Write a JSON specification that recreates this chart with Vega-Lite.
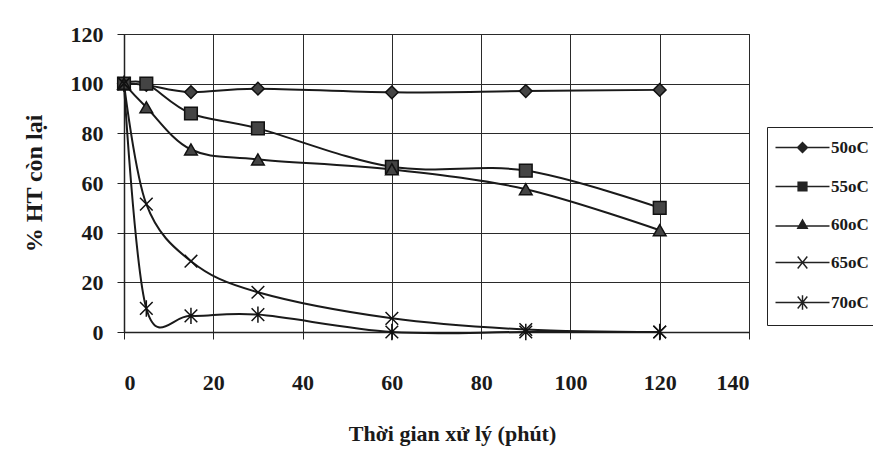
{
  "$schema": "https://vega.github.io/schema/vega-lite/v6.json",
  "width": 625,
  "height": 298,
  "autosize": {"type": "none"},
  "padding": {"left": 124, "top": 34, "right": 124, "bottom": 132},
  "background": "white",
  "config": {
    "font": "Liberation Serif",
    "view": {"stroke": "#222", "strokeWidth": 1},
    "axis": {
      "grid": true,
      "gridColor": "#2a2a2a",
      "gridWidth": 1,
      "gridOpacity": 1,
      "domainColor": "#222",
      "domainWidth": 1.5,
      "tickColor": "#222",
      "tickSize": 7,
      "labelFont": "Liberation Serif",
      "labelFontWeight": "bold",
      "labelFontSize": 22,
      "labelColor": "#1a1a1a",
      "titleFont": "Liberation Serif",
      "titleFontWeight": "bold",
      "titleColor": "#1a1a1a"
    }
  },
  "data": {
    "values": [
      {"t": 0, "pct": 100, "series": "50oC"},
      {"t": 5, "pct": 99.5, "series": "50oC"},
      {"t": 15, "pct": 96.6, "series": "50oC"},
      {"t": 30, "pct": 98, "series": "50oC"},
      {"t": 60, "pct": 96.5, "series": "50oC"},
      {"t": 90, "pct": 97, "series": "50oC"},
      {"t": 120, "pct": 97.5, "series": "50oC"},
      {"t": 0, "pct": 100, "series": "55oC"},
      {"t": 5, "pct": 100, "series": "55oC"},
      {"t": 15, "pct": 88, "series": "55oC"},
      {"t": 30, "pct": 82, "series": "55oC"},
      {"t": 60, "pct": 66.5, "series": "55oC"},
      {"t": 90, "pct": 65, "series": "55oC"},
      {"t": 120, "pct": 50, "series": "55oC"},
      {"t": 0, "pct": 100, "series": "60oC"},
      {"t": 5, "pct": 90.5, "series": "60oC"},
      {"t": 15, "pct": 73.5, "series": "60oC"},
      {"t": 30, "pct": 69.5, "series": "60oC"},
      {"t": 60, "pct": 65.5, "series": "60oC"},
      {"t": 90, "pct": 57.5, "series": "60oC"},
      {"t": 120, "pct": 41, "series": "60oC"},
      {"t": 0, "pct": 100, "series": "65oC"},
      {"t": 5, "pct": 51.5, "series": "65oC"},
      {"t": 15, "pct": 28.5, "series": "65oC"},
      {"t": 30, "pct": 16, "series": "65oC"},
      {"t": 60, "pct": 5.5, "series": "65oC"},
      {"t": 90, "pct": 1, "series": "65oC"},
      {"t": 120, "pct": 0, "series": "65oC"},
      {"t": 0, "pct": 100, "series": "70oC"},
      {"t": 5, "pct": 9.5, "series": "70oC"},
      {"t": 15, "pct": 6.5, "series": "70oC"},
      {"t": 30, "pct": 7, "series": "70oC"},
      {"t": 60, "pct": 0, "series": "70oC"},
      {"t": 90, "pct": 0, "series": "70oC"},
      {"t": 120, "pct": 0, "series": "70oC"}
    ]
  },
  "encoding": {
    "x": {
      "field": "t",
      "type": "quantitative",
      "scale": {"domain": [0, 140], "nice": false},
      "axis": {
        "values": [0, 20, 40, 60, 80, 100, 120, 140],
        "title": "Thời gian xử lý (phút)",
        "titleFontSize": 22,
        "titlePadding": 30,
        "titleX": 328,
        "labelPadding": 33
      }
    },
    "y": {
      "field": "pct",
      "type": "quantitative",
      "scale": {"domain": [0, 120], "nice": false},
      "axis": {
        "values": [0, 20, 40, 60, 80, 100, 120],
        "title": "% HT còn lại",
        "titleFontSize": 24,
        "titlePadding": 24,
        "labelPadding": 14
      }
    }
  },
  "layer": [
    {
      "mark": {"type": "line", "interpolate": "cardinal", "color": "#1a1a1a", "strokeWidth": 2, "clip": false},
      "encoding": {"detail": {"field": "series"}}
    },
    {
      "mark": {"type": "point", "filled": true, "fill": "#444", "stroke": "#111", "strokeWidth": 1.5, "size": 160, "opacity": 1},
      "encoding": {
        "shape": {
          "field": "series",
          "type": "nominal",
          "scale": {
            "domain": ["50oC", "55oC", "60oC", "65oC", "70oC"],
            "range": ["diamond", "square", "triangle-up", "M-1,-1L1,1M-1,1L1,-1", "M-1,-1L1,1M-1,1L1,-1M0,-1.3L0,1.3"]
          },
          "legend": null
        }
      }
    },
    {
      "mark": {"type": "point", "filled": true, "fill": "#222", "size": 0},
      "encoding": {
        "shape": {
          "field": "series",
          "type": "nominal",
          "scale": {
            "domain": ["50oC", "55oC", "60oC", "65oC", "70oC"],
            "range": [
              "M-4.5,-0.12L4.5,-0.12L4.5,0.12L-4.5,0.12ZM0,-1L1,0L0,1L-1,0Z",
              "M-4.5,-0.12L4.5,-0.12L4.5,0.12L-4.5,0.12ZM-0.85,-0.85L0.85,-0.85L0.85,0.85L-0.85,0.85Z",
              "M-4.5,0.13L4.5,0.13L4.5,0.37L-4.5,0.37ZM0,-1L1,0.75L-1,0.75Z",
              "M-4.5,-0.12L4.5,-0.12L4.5,0.12L-4.5,0.12ZM-0.706,-1.075L0.894,0.925L0.706,1.075L-0.894,-0.925ZM-0.706,1.075L-0.894,0.925L0.706,-1.075L0.894,-0.925Z",
              "M-4.5,-0.12L4.5,-0.12L4.5,0.12L-4.5,0.12ZM-0.706,-1.075L0.894,0.925L0.706,1.075L-0.894,-0.925ZM-0.706,1.075L-0.894,0.925L0.706,-1.075L0.894,-0.925ZM-0.12,-1.2L0.12,-1.2L0.12,1.2L-0.12,1.2Z"
            ]
          },
          "legend": {
            "title": null,
            "orient": "none",
            "legendX": 643,
            "legendY": 93,
            "strokeColor": "#222",
            "fillColor": "white",
            "padding": 12,
            "symbolSize": 144,
            "symbolOffset": 15,
            "labelOffset": 20,
            "labelFont": "Liberation Serif",
            "labelFontSize": 17,
            "labelFontWeight": "bold",
            "labelColor": "#1a1a1a",
            "rowPadding": 20,
            "symbolOpacity": 1,
            "symbolFillColor": "#222"
          }
        }
      }
    }
  ],
  "resolve": {"scale": {"shape": "independent"}}
}
